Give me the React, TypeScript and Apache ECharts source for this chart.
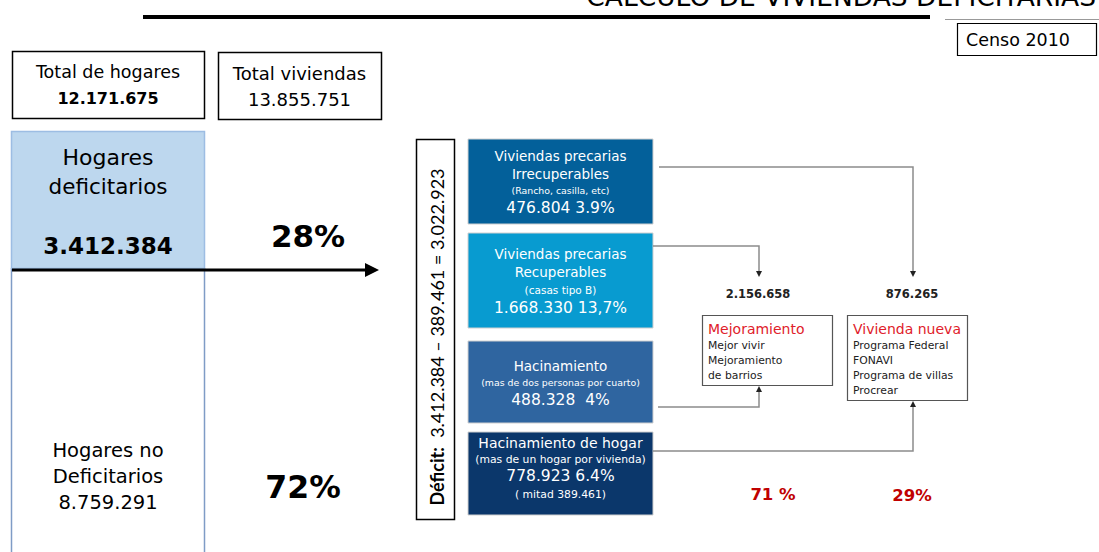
import React, { useEffect, useRef } from "react";
import * as echarts from "echarts";

const titleText = "CÁLCULO DE VIVIENDAS DEFICITARIAS";
const censusLabel = "Censo 2010";
const totalLabels = ["Total de hogares", "Total viviendas"];
const totalValues = ["12.171.675", "13.855.751"];
const deficitLabel = ["Hogares", "deficitarios"];
const deficitValue = "3.412.384";
const nonDeficitLabel = ["Hogares no", "Deficitarios", "8.759.291"];
const shares = ["28%", "72%"];
const deficitFormula = ["Déficit:", "3.412.384 – 389.461 = 3.022.923"];
const categoryTitles = [
  ["Viviendas precarias", "Irrecuperables"],
  ["Viviendas precarias", "Recuperables"],
  ["Hacinamiento"],
  ["Hacinamiento de hogar"],
];
const categoryNotes = [
  "(Rancho, casilla, etc)",
  "(casas tipo B)",
  "(mas de dos personas por cuarto)",
  "(mas de un hogar por vivienda)",
];
const categoryValues = ["476.804 3.9%", "1.668.330 13,7%", "488.328  4%", "778.923 6.4%"];
const categoryExtra = ["", "", "", "( mitad 389.461)"];
const categoryColors = ["#03609a", "#089bd0", "#2f65a0", "#0b376b"];
const programTotals = ["2.156.658", "876.265"];
const programTitles = ["Mejoramiento", "Vivienda nueva"];
const programItems = [
  ["Mejor vivir", "Mejoramiento", "de barrios"],
  ["Programa Federal", "FONAVI", "Programa de villas", "Procrear"],
];
const programShares = ["71 %", "29%"];

const V = "'DejaVu Sans', Verdana, sans-serif";
const C = "Lato, 'Liberation Sans', sans-serif";

function txt(text: string, x: number, y: number, size: number, opts: any = {}) {
  const align = opts.align || "center";
  const va = opts.va || "middle";
  return {
    type: "text",
    silent: true,
    style: {
      text,
      x,
      y,
      fill: opts.fill || "#000",
      fontSize: size,
      fontFamily: opts.family || V,
      fontWeight: opts.weight || "normal",
      align,
      verticalAlign: va,
      textAlign: align,
      textVerticalAlign: va,
    },
  };
}

function box(x: number, y: number, w: number, h: number, stroke: string, fill = "#fff", lw = 1.5) {
  return {
    type: "rect",
    silent: true,
    shape: { x, y, width: w, height: h },
    style: { fill, stroke, lineWidth: lw },
  };
}

function line(points: number[][], stroke: string, lw: number) {
  return {
    type: "polyline",
    silent: true,
    shape: { points },
    style: { stroke, lineWidth: lw, fill: null },
  };
}

function tri(points: number[][], fill: string) {
  return { type: "polygon", silent: true, shape: { points }, style: { fill } };
}

export default function App() {
  const ref = useRef<HTMLDivElement>(null);
  useEffect(() => {
    if (!ref.current) return;
    const chart = echarts.init(ref.current, undefined, { renderer: "svg" });
    const els: any[] = [];

    // title (cut at the top, as in the original slide) and rules
    els.push(txt(titleText, 1096, 10, 26.5, { align: "right", va: "bottom" }));
    els.push({ type: "rect", silent: true, shape: { x: 143, y: 15, width: 787, height: 4 }, style: { fill: "#000" } });
    els.push(line([[945, 19.5], [1099, 19.5]], "#999", 1));

    // census box
    els.push(box(957.5, 23.5, 139, 32, "#000", "#fff", 1.2));
    els.push(txt(censusLabel, 966, 39.5, 17.5, { align: "left" }));

    // totals
    const totalBoxes = [
      [12, 51, 192, 67],
      [218, 52, 163, 67],
    ];
    const totalLabelSize = [17.5, 18];
    const totalValueSize = [16, 18];
    totalBoxes.forEach((b, i) => {
      els.push(box(b[0] + 0.5, b[1] + 0.5, b[2], b[3], "#000", "#fff", 1.5));
      els.push(txt(totalLabels[i], b[0] + b[2] / 2, b[1] + 21, totalLabelSize[i]));
      els.push(txt(totalValues[i], b[0] + b[2] / 2, b[1] + 47, totalValueSize[i], { weight: i === 0 ? "bold" : "normal" }));
    });

    // deficit / non-deficit column
    els.push(line([[11.5, 268], [11.5, 552]], "#7f9cc6", 1.5));
    els.push(line([[204.5, 268], [204.5, 552]], "#7f9cc6", 1.5));
    els.push(box(11.5, 131.5, 193, 137, "#9dbde3", "#bdd7ee", 1.5));
    els.push(txt(deficitLabel[0], 108, 157, 22));
    els.push(txt(deficitLabel[1], 108, 186, 21.5));
    els.push(txt(deficitValue, 108, 246, 23, { weight: "bold" }));
    nonDeficitLabel.forEach((t, i) => els.push(txt(t, 108, 450 + i * 26, 19.5)));
    els.push(txt(shares[0], 308, 236, 31, { weight: "bold" }));
    els.push(txt(shares[1], 303, 487, 31.5, { weight: "bold" }));

    // arrow
    els.push(line([[12, 270], [368, 270]], "#000", 3));
    els.push(tri([[365, 263], [379, 270], [365, 277]], "#000"));

    // deficit formula
    els.push(box(416.5, 139.5, 38, 380, "#000", "#fff", 1.5));
    els.push({
      type: "text",
      silent: true,
      x: 437,
      y: 337,
      rotation: Math.PI / 2,
      style: {
        text: "{b|" + deficitFormula[0] + "}  " + deficitFormula[1],
        x: 0,
        y: 0,
        fill: "#000",
        fontSize: 18,
        fontFamily: C,
        align: "center",
        verticalAlign: "middle",
        textAlign: "center",
        textVerticalAlign: "middle",
        rich: { b: { fontWeight: "bold", fontSize: 18, fontFamily: C, fill: "#000" } },
      },
    });

    // category boxes
    const catBoxes = [
      [139, 85],
      [233, 95],
      [341, 82],
      [432, 83],
    ];
    const catLines = [
      [156, 174, 190, 208],
      [254, 272, 290, 308],
      [366, 382, 400],
      [443, 459, 476, 494],
    ];
    const titleSizes = [13.5, 13.5, 13.5, 14];
    const noteSizes = [9.4, 10.5, 9.4, 10.8];
    catBoxes.forEach((b, i) => {
      els.push(box(468, b[0], 185, b[1], "#d0d0d0", categoryColors[i], 1));
      const ys = catLines[i];
      let k = 0;
      categoryTitles[i].forEach((t) => {
        els.push(txt(t, 560.5, ys[k++], titleSizes[i], { fill: "#fff" }));
      });
      els.push(txt(categoryNotes[i], 560.5, ys[k++], noteSizes[i], { fill: "#fff" }));
      els.push(txt(categoryValues[i], 560.5, ys[k++], 15.5, { fill: "#fff" }));
      if (categoryExtra[i]) els.push(txt(categoryExtra[i], 560.5, 494, 10.8, { fill: "#fff" }));
    });

    // connectors
    const g = "#8c8c8c";
    els.push(line([[659, 167], [913, 167], [913, 272]], g, 1.5));
    els.push(tri([[910, 271], [916, 271], [913, 277]], "#222"));
    els.push(line([[653, 246], [759, 246], [759, 272]], g, 1.5));
    els.push(tri([[756, 271], [762, 271], [759, 277]], "#222"));
    els.push(line([[658, 407], [759, 407], [759, 391]], g, 1.5));
    els.push(tri([[756, 392], [762, 392], [759, 386]], "#222"));
    els.push(line([[653, 451], [913, 451], [913, 406]], g, 1.5));
    els.push(tri([[910, 407], [916, 407], [913, 401]], "#222"));

    // program totals
    els.push(txt(programTotals[0], 758, 294, 11.5, { weight: "bold", fill: "#222" }));
    els.push(txt(programTotals[1], 912, 294, 11.5, { weight: "bold", fill: "#222" }));

    // program boxes
    const progBoxes = [
      [702, 315, 130, 70],
      [847, 315, 120, 85],
    ];
    progBoxes.forEach((b, i) => {
      els.push(box(b[0] + 0.5, b[1] + 0.5, b[2], b[3], "#555", "#fff", 1.2));
      els.push(txt(programTitles[i], b[0] + 6, b[1] + 14, 14, { align: "left", fill: "#e0202a" }));
      programItems[i].forEach((t, j) => {
        els.push(txt(t, b[0] + 6, b[1] + 30 + j * 15, 10.8, { align: "left", fill: "#222" }));
      });
    });

    els.push(txt(programShares[0], 773, 494, 16.5, { weight: "bold", fill: "#c00000" }));
    els.push(txt(programShares[1], 912, 495, 16.5, { weight: "bold", fill: "#c00000" }));

    chart.setOption({
      animation: false,
      backgroundColor: "#fff",
      graphic: { elements: els },
    });
    return () => chart.dispose();
  }, []);
  return (
    <div
      ref={ref}
      style={{ position: "fixed", left: 0, top: 0, width: 1099, height: 552, background: "#fff" }}
    />
  );
}
